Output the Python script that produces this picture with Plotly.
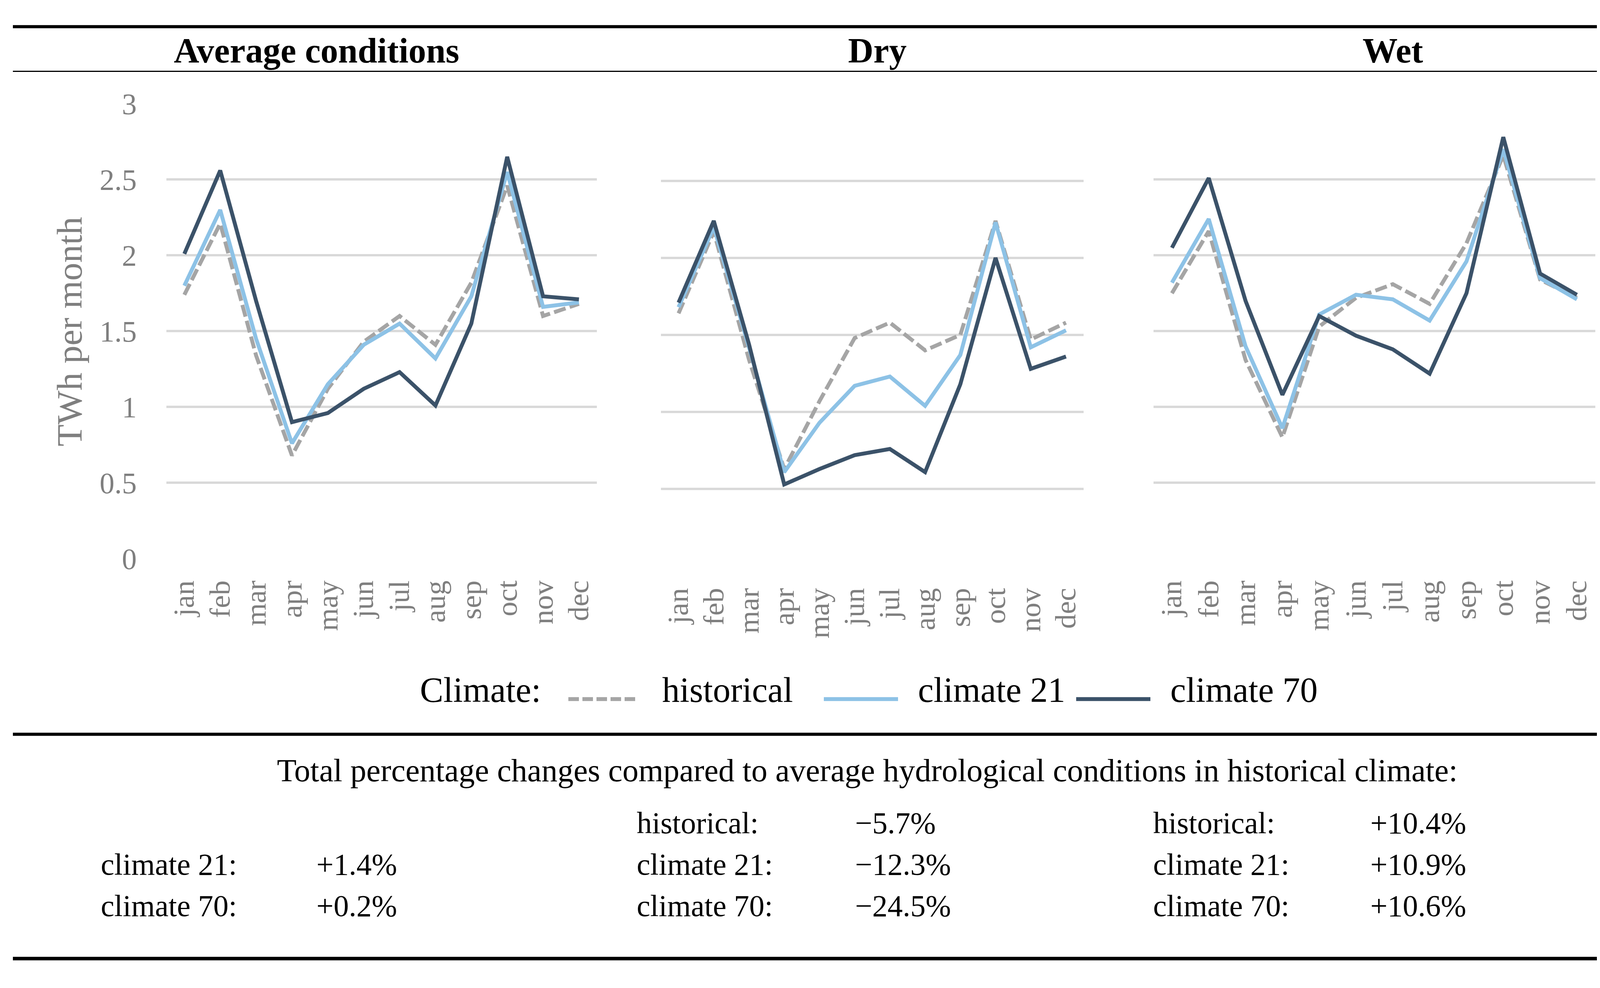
import plotly.graph_objects as go

# ---------------- data ----------------
months = ["jan", "feb", "mar", "apr", "may", "jun", "jul", "aug", "sep", "oct", "nov", "dec"]

avg_hist = [1.74, 2.21, 1.34, 0.68, 1.12, 1.43, 1.60, 1.41, 1.82, 2.46, 1.60, 1.68]
avg_c21 = [1.80, 2.30, 1.45, 0.76, 1.15, 1.41, 1.55, 1.32, 1.73, 2.55, 1.66, 1.69]
avg_c70 = [2.01, 2.56, 1.70, 0.90, 0.96, 1.12, 1.23, 1.01, 1.55, 2.65, 1.73, 1.71]

dry_hist = [1.64, 2.17, 1.34, 0.63, 1.07, 1.48, 1.58, 1.40, 1.50, 2.24, 1.47, 1.58]
dry_c21 = [1.68, 2.20, 1.42, 0.61, 0.93, 1.17, 1.23, 1.04, 1.37, 2.23, 1.42, 1.53]
dry_c70 = [1.71, 2.24, 1.44, 0.53, 0.63, 0.72, 0.76, 0.61, 1.18, 2.00, 1.28, 1.36]

wet_hist = [1.75, 2.16, 1.31, 0.80, 1.53, 1.72, 1.81, 1.68, 2.08, 2.66, 1.84, 1.72]
wet_c21 = [1.82, 2.24, 1.40, 0.86, 1.61, 1.74, 1.71, 1.57, 1.96, 2.70, 1.85, 1.71]
wet_c70 = [2.05, 2.51, 1.70, 1.08, 1.60, 1.47, 1.38, 1.22, 1.75, 2.78, 1.88, 1.74]

panel_titles = ["Average conditions", "Dry", "Wet"]
series_names = ["historical", "climate 21", "climate 70"]

table_title = "Total percentage changes compared to average hydrological conditions in historical climate:"
table_rows = [
    # (panel index, row index, label, value)
    (0, 1, "climate 21:", "+1.4%"),
    (0, 2, "climate 70:", "+0.2%"),
    (1, 0, "historical:", "\u22125.7%"),
    (1, 1, "climate 21:", "\u221212.3%"),
    (1, 2, "climate 70:", "\u221224.5%"),
    (2, 0, "historical:", "+10.4%"),
    (2, 1, "climate 21:", "+10.9%"),
    (2, 2, "climate 70:", "+10.6%"),
]

# ---------------- style ----------------
# The page body has an 8px margin; the figure is sized so page == window.
OFF = 8
FW, FH = 4255 - 2 * OFF, 2528 - 2 * OFF
FONT = "Liberation Serif"
TICK = "#7F7F7F"
GRID = "#D9D9D9"
COLORS = ["#A5A5A5", "#8DC2E6", "#3B5269"]
DASHES = ["31px,11px", "solid", "solid"]


def fx(x):
    return (x - OFF) / FW


def fy(y):
    return 1 - (y - OFF) / FH


fig = go.Figure()

panels = [
    (avg_hist, avg_c21, avg_c70),
    (dry_hist, dry_c21, dry_c70),
    (wet_hist, wet_c21, wet_c70),
]
x_domains = [(426, 1528), (1692, 2774), (2953, 4084)]
y_domains = [(1436, 232), (1456, 232), (1436, 232)]

for i, series in enumerate(panels):
    sfx = "" if i == 0 else str(i + 1)
    for name, vals, col, dash in zip(series_names, series, COLORS, DASHES):
        fig.add_trace(go.Scatter(
            x=months, y=vals, name=name, mode="lines",
            xaxis="x" + sfx, yaxis="y" + sfx,
            line=dict(color=col, width=10, dash=dash),
            showlegend=False, hoverinfo="skip",
        ))

layout_axes = {}
for i in range(3):
    sfx = "" if i == 0 else str(i + 1)
    layout_axes["xaxis" + sfx] = dict(
        domain=[fx(x_domains[i][0]), fx(x_domains[i][1])],
        anchor="y" + sfx, type="category",
        categoryorder="array", categoryarray=months,
        range=[-0.5, 11.5], showgrid=False, zeroline=False, showline=False,
        ticks="", tickangle=-90, ticklabelstandoff=40,
        tickfont=dict(family=FONT, size=75, color=TICK),
    )
    layout_axes["yaxis" + sfx] = dict(
        domain=[fy(y_domains[i][0]), fy(y_domains[i][1])],
        anchor="x" + sfx, range=[0, 3], tick0=0, dtick=0.5,
        showgrid=True, gridcolor=GRID, gridwidth=6,
        zeroline=False, showline=False, ticks="",
        showticklabels=(i == 0), ticklabelstandoff=75,
        tickfont=dict(family=FONT, size=76, color=TICK),
    )

annotations = []


def add_text(text, x, baseline, size, anchor="left", bold=False, color="black"):
    annotations.append(dict(
        text=("<b>%s</b>" % text) if bold else text,
        x=fx(x), y=fy(baseline - 0.34 * size), xref="paper", yref="paper",
        xanchor=anchor, yanchor="middle", showarrow=False,
        font=dict(family=FONT, size=size, color=color),
    ))


# panel titles
for t, cx in zip(panel_titles, [810, 2246, 3565]):
    add_text(t, cx, 122, 90, anchor="center", bold=True)

# y axis title
annotations.append(dict(
    text="TWh per month", x=fx(178), y=fy(835), xref="paper", yref="paper",
    xanchor="center", yanchor="middle", textangle=-90, showarrow=False,
    font=dict(family=FONT, size=92, color=TICK),
))

# legend
add_text("Climate:", 1073, 1815, 90)
legend_pos = [(1455, 1635, 1693), (2109, 2299, 2348), (2755, 2945, 2994)]
shapes = []
for name, col, (lx0, lx1, tx) in zip(series_names, COLORS, legend_pos):
    shapes.append(dict(
        type="line", xref="paper", yref="paper",
        x0=fx(lx0), x1=fx(lx1), y0=fy(1808), y1=fy(1808),
        line=dict(color=col, width=10,
                  dash="27px,9px" if name == "historical" else "solid"),
    ))
    add_text(name, tx, 1815, 90)

# table
add_text(table_title, 2220, 2025, 82, anchor="center")
label_x = [256, 1628, 2950]
value_x = [808, 2187, 3506]
row_base = [2162, 2272, 2382]
for p, r, lab, val in table_rows:
    add_text(lab, label_x[p], row_base[r], 78)
    add_text(val, value_x[p], row_base[r], 78)

# rules
for y, w in [(28, 8), (146, 3), (1901, 8), (2495, 9)]:
    shapes.append(dict(
        type="line", xref="paper", yref="paper",
        x0=fx(33), x1=fx(4224), y0=fy(y), y1=fy(y),
        line=dict(color="black", width=w),
    ))

fig.update_layout(
    width=FW, height=FH,
    margin=dict(l=0, r=0, t=0, b=0),
    paper_bgcolor="white", plot_bgcolor="white",
    showlegend=False,
    annotations=annotations, shapes=shapes,
    **layout_axes,
)

fig.write_html("out.html")
